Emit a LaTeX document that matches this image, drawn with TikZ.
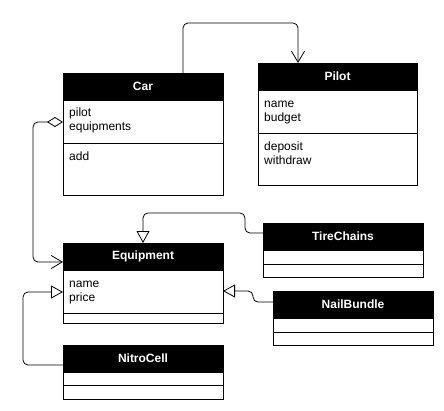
\documentclass[tikz,border=0pt]{standalone}
\usepackage{fontspec}
\setmainfont{Liberation Sans}
\usetikzlibrary{arrows.meta}
\tikzset{
  hdr/.style={draw=black, line width=0.8pt, fill=black, text=white, font=\bfseries\fontsize{12}{14}\selectfont, minimum width=160pt, minimum height=27pt, anchor=north west, inner sep=0pt, outer sep=0pt},
  comp/.style={draw=black, line width=0.8pt, fill=white, minimum width=160pt, anchor=north west, inner sep=0pt, outer sep=0pt},
  lbl/.style={anchor=base west, font=\fontsize{12}{14}\selectfont, inner sep=0pt},
  conn/.style={draw=black, line width=0.8pt, rounded corners=5pt},
  assoc/.style={conn, -{Straight Barb[length=11pt,width=13pt,line width=0.8pt]}},
  inherit/.style={conn, -{Triangle[open,length=12pt,width=13pt,line width=0.8pt,fill=white]}},
  aggr/.style={conn, {Diamond[open,length=16pt,width=10pt,line width=0.8pt,fill=white]}-{Straight Barb[length=11pt,width=13pt,line width=0.8pt]}},
}
\begin{document}
\begin{tikzpicture}[x=1pt,y=-1pt]
\useasboundingbox[fill=white] (0,0) rectangle (444,410);

% Car
\node[hdr] (car) at (63,73) {Car};
\node[comp, minimum height=43pt] (carA) at (63,100) {};
\node[comp, minimum height=52pt] (carM) at (63,143) {};
\node[lbl] (carA1) at (69,116.5) {pilot};
\node[lbl] (carA2) at (69,130.5) {equipments};
\node[lbl] (carM1) at (69,160) {add};

% Pilot
\node[hdr, minimum width=159pt] (pilot) at (258,63) {Pilot};
\node[comp, minimum width=159pt, minimum height=43pt] (pilotA) at (258,90) {};
\node[comp, minimum width=159pt, minimum height=52pt] (pilotM) at (258,133) {};
\node[lbl] (pilotA1) at (264,107) {name};
\node[lbl] (pilotA2) at (264,121) {budget};
\node[lbl] (pilotM1) at (264,150) {deposit};
\node[lbl] (pilotM2) at (264,164) {withdraw};

% Equipment
\node[hdr] (equip) at (63,243) {Equipment};
\node[comp, minimum height=43pt] (equipA) at (63,270) {};
\node[comp, minimum height=10pt] (equipM) at (63,313) {};
\node[lbl] (equipA1) at (69,287) {name};
\node[lbl] (equipA2) at (69,301) {price};

% TireChains
\node[hdr] (tire) at (263,223) {TireChains};
\node[comp, minimum height=14pt] (tireA) at (263,250) {};
\node[comp, minimum height=13pt] (tireM) at (263,264) {};

% NailBundle
\node[hdr] (nail) at (273,291) {NailBundle};
\node[comp, minimum height=14pt] (nailA) at (273,318) {};
\node[comp, minimum height=13pt] (nailM) at (273,332) {};

% NitroCell
\node[hdr] (nitro) at (63,345) {NitroCell};
\node[comp, minimum height=13pt] (nitroA) at (63,372) {};
\node[comp, minimum height=14pt] (nitroM) at (63,385) {};

% Connectors
\draw[assoc] ([xshift=40pt]car.north) -- ++(0,-50) -| ([xshift=-39.5pt]pilot.north);
\draw[aggr] (carA.west |- 0,122) -- (33,122) -- (33,262) -- (equip.west |- 0,262);
\draw[inherit] (tire.west |- 0,233) -- (245,233) -- (245,213) -- (143,213) -- (equip.north);
\draw[inherit] (nail.west |- 0,302) -- (253,302) -- (253,291) -- (equipA.east |- 0,291);
\draw[inherit] (nitro.west |- 0,365) -- (23,365) -- (23,292) -- (equipA.west |- 0,292);
\end{tikzpicture}
\end{document}
